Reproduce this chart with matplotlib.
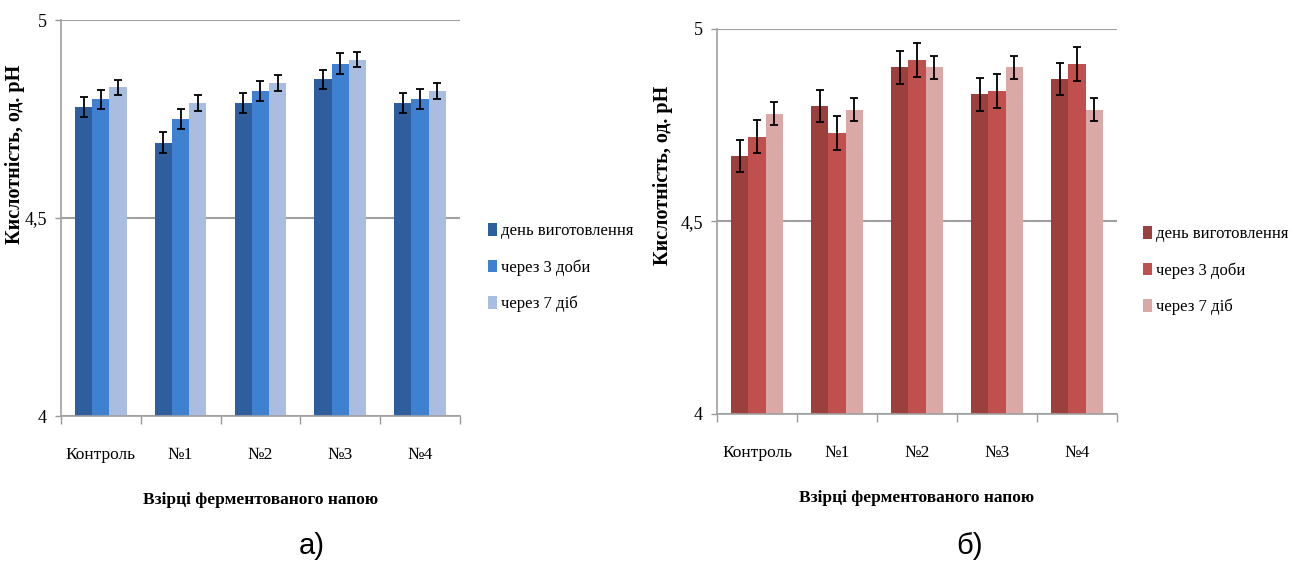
import matplotlib
matplotlib.use('Agg')
from matplotlib import pyplot as plt
import numpy as np

# зразки та серії
samples = ['Контроль', '№1', '№2', '№3', '№4']
series = ['день виготовлення', 'через 3 доби', 'через 7 діб']

# кислотність, од. pH (рисунок а)
ph_a_day0 = [4.78, 4.69, 4.79, 4.85, 4.79]
ph_a_day3 = [4.80, 4.75, 4.82, 4.89, 4.80]
ph_a_day7 = [4.83, 4.79, 4.84, 4.90, 4.82]
err_a_day0 = [0.025, 0.027, 0.025, 0.025, 0.025]
err_a_day3 = [0.024, 0.025, 0.025, 0.026, 0.025]
err_a_day7 = [0.019, 0.02, 0.02, 0.019, 0.02]

# кислотність, од. pH (рисунок б)
ph_b_day0 = [4.67, 4.80, 4.90, 4.83, 4.87]
ph_b_day3 = [4.72, 4.73, 4.92, 4.84, 4.91]
ph_b_day7 = [4.78, 4.79, 4.90, 4.90, 4.79]
err_b_day0 = [0.042, 0.042, 0.042, 0.042, 0.042]
err_b_day3 = [0.043, 0.044, 0.044, 0.044, 0.044]
err_b_day7 = [0.03, 0.03, 0.03, 0.03, 0.03]

colors_a = ['#2F5E9E', '#3F80D0', '#A8BDE0']
colors_b = ['#9C403D', '#C0504D', '#D9A8A7']

serif = 'Liberation Serif'
plt.rcParams['font.family'] = serif

fig = plt.figure(figsize=(12.94, 5.64), dpi=100)


def draw_chart(ax, values, errors, colors, leg_x, leg_y):
    x = np.arange(len(samples))
    w = 0.215
    for i, (vals, errs) in enumerate(zip(values, errors)):
        ax.bar(x + (i - 1) * w, np.array(vals) - 4, width=w, bottom=4,
               color=colors[i], label=series[i], zorder=2)
        ax.errorbar(x + (i - 1) * w, vals, yerr=errs, fmt='none',
                    ecolor='black', elinewidth=1.3, capsize=3, capthick=1.3,
                    zorder=3)
    ax.set_xlim(-0.5, len(samples) - 0.5)
    ax.set_ylim(4, 5)
    ax.set_yticks([4, 4.5, 5])
    ax.set_yticklabels(['4', '4,5', '5'], fontsize=13)
    ax.set_xticks(x)
    ax.set_xticklabels(samples, fontsize=12.5)
    ax.set_xticks(np.arange(-0.5, len(samples)), minor=True)
    ax.tick_params(axis='x', which='major', length=0, pad=22)
    ax.tick_params(axis='x', which='minor', length=6, color='#999999', width=1)
    ax.tick_params(axis='y', length=4, color='#999999', width=1, pad=6)
    ax.yaxis.grid(True, color='#A0A0A0', linewidth=1.5, zorder=0)
    ax.set_axisbelow(True)
    for s in ['top', 'right']:
        ax.spines[s].set_visible(False)
    for s in ['left', 'bottom']:
        ax.spines[s].set_color('#A0A0A0')
        ax.spines[s].set_linewidth(1.2)
    ax.set_xlabel('Взірці ферментованого напою', fontsize=12.5, fontweight='bold',
                  labelpad=21)
    ax.set_ylabel('Кислотність, од. pH', fontsize=14.5, fontweight='bold')
    fig.legend(*ax.get_legend_handles_labels(), loc='center left',
               bbox_to_anchor=(leg_x, leg_y), frameon=False, fontsize=12,
               handlelength=0.55, handleheight=0.75, handletextpad=0.25,
               labelspacing=1.2, borderaxespad=0)


ax_a = fig.add_axes([0.0471, 0.2624, 0.3083, 0.7021])
draw_chart(ax_a, [ph_a_day0, ph_a_day3, ph_a_day7],
           [err_a_day0, err_a_day3, err_a_day7], colors_a, 0.372, 0.525)
ax_a.yaxis.set_label_coords(-0.09, 0.66)

ax_b = fig.add_axes([0.5541, 0.266, 0.3091, 0.6826])
draw_chart(ax_b, [ph_b_day0, ph_b_day3, ph_b_day7],
           [err_b_day0, err_b_day3, err_b_day7], colors_b, 0.878, 0.52)
ax_b.yaxis.set_label_coords(-0.11, 0.62)

# підписи рисунків
fig.text(0.241, 0.032, 'а)', fontsize=21, family='Liberation Sans',
         ha='center', va='center')
fig.text(0.749, 0.032, 'б)', fontsize=21, family='Liberation Sans',
         ha='center', va='center')

plt.savefig('out.png')
